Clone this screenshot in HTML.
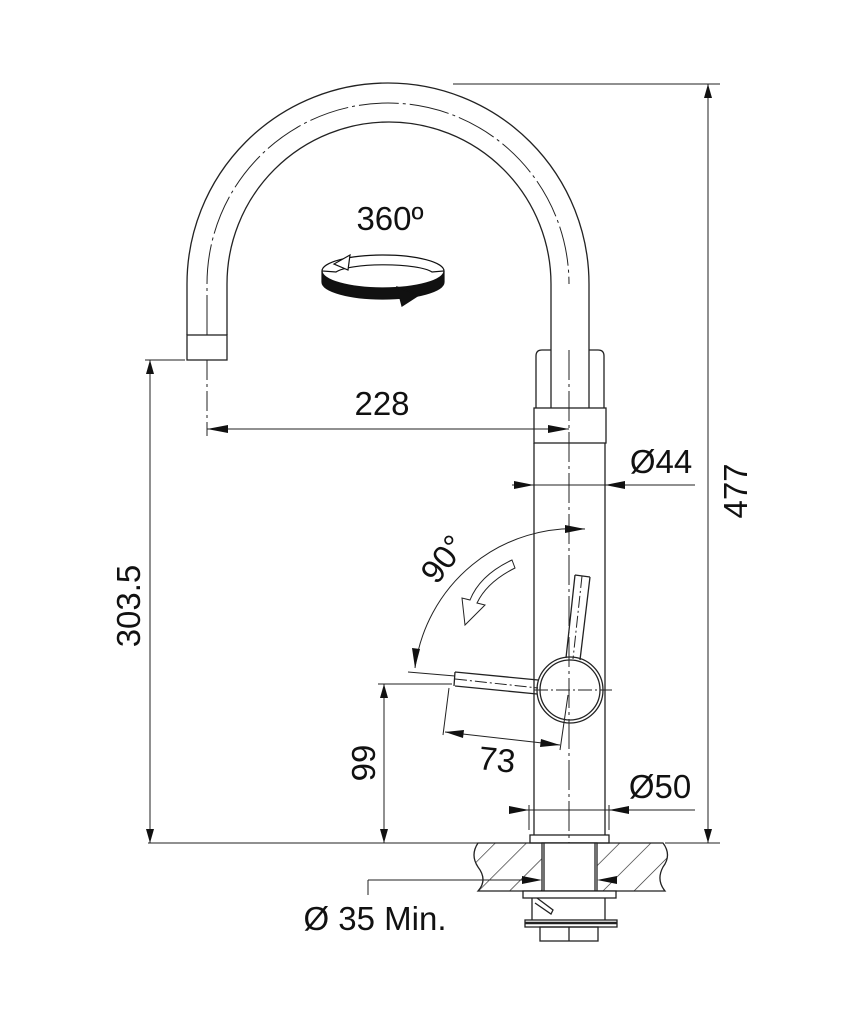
<!DOCTYPE html>
<html><head><meta charset="utf-8"><style>
html,body{margin:0;padding:0;background:#fff}
svg{display:block}
text{font-family:"Liberation Sans",Arial,sans-serif;fill:#111}
</style></head><body>
<svg width="852" height="1018" viewBox="0 0 852 1018" xmlns="http://www.w3.org/2000/svg">
<defs>
<pattern id="h" patternUnits="userSpaceOnUse" width="22" height="22" patternTransform="rotate(45)">
<line x1="0" y1="0" x2="0" y2="22" stroke="#222" stroke-width="1.3"/>
</pattern>
</defs>
<g fill="none" stroke="#222" stroke-width="1.3">
<path d="M187 335 L187 284 A201 201 0 0 1 589 284 L589 350"/>
<path d="M227 335 L227 284 A162 162 0 0 1 551 284 L551 350"/>
<path d="M207 335 L207 284 A181 181 0 0 1 569 284" stroke-dasharray="40 4 3 4" stroke-width="1"/>
<rect x="187" y="335" width="40" height="25"/>
<path d="M536 408 L536 356 Q536 350 542 350 L551 350 M589 350 L598 350 Q604 350 604 356 L604 408"/>
<rect x="534" y="408" width="72" height="35"/>
<line x1="551" y1="350" x2="551" y2="408"/><line x1="589" y1="350" x2="589" y2="408"/>
<line x1="534" y1="443" x2="534" y2="835"/>
<line x1="605" y1="443" x2="605" y2="835"/>
<rect x="530" y="835" width="79" height="8"/>
<line x1="569" y1="350" x2="569" y2="880" stroke-dasharray="30 4 3 4" stroke-width="1"/>
<line x1="207" y1="360" x2="207" y2="436" stroke-dasharray="20 4 3 4" stroke-width="1"/>
<circle cx="570" cy="690" r="33"/>
<circle cx="570" cy="690" r="30"/>
<path d="M455 672 L538 680 M455 686 L537 694 M455 672 L454 686"/>
<line x1="455" y1="679" x2="538" y2="688" stroke-dasharray="12 3 2 3" stroke-width="1"/>
<path d="M575 575 L566 658 M590 577 L580 660 M575 575 L590 577"/>
<line x1="582" y1="576" x2="573" y2="659" stroke-dasharray="12 3 2 3" stroke-width="1"/>
<line x1="534" y1="690" x2="612" y2="690" stroke-dasharray="14 3 2 3" stroke-width="1"/>
<path d="M478 843 L663 843 Q672 855 663 867 Q656 880 665 891 L478 891 Q488 880 478 867 Q470 855 478 843Z" fill="url(#h)"/>
<rect x="542" y="843" width="55" height="48" fill="#fff"/>
<line x1="544" y1="843" x2="544" y2="891"/><line x1="595" y1="843" x2="595" y2="891"/>
<rect x="523" y="891" width="93" height="7" fill="#fff"/>
<path d="M532 898 L532 920 M605 898 L605 920"/>
<path d="M537 898 L553 910 L551 914 L535 903"/>
<rect x="525" y="920" width="92" height="7" fill="#fff"/>
<line x1="525" y1="923" x2="617" y2="923" stroke-width="2.5"/>
<rect x="540" y="927" width="58" height="14"/>
<line x1="569" y1="927" x2="569" y2="941"/>
</g>
<!-- rotation icon -->
<g stroke="#111" stroke-width="1.2">
<path d="M322 271 A61 17 0 0 0 444 271 L444 282 A61 17 0 0 1 322 282 Z" fill="#111"/>
<path d="M322 271 A61 16 0 0 1 444 271 L432 272 A50 10 0 0 0 336 272 Z" fill="#fff"/>
<path d="M350 255 L334 264 L348 270 Z" fill="#fff"/>
<path d="M397 287 L419 295 L402 306 Z" fill="#111"/>
</g>
<g stroke="#222" stroke-width="1" fill="none">
<line x1="453" y1="84" x2="720" y2="84"/>
<line x1="708" y1="84" x2="708" y2="843"/>
<line x1="148" y1="843" x2="478" y2="843"/>
<line x1="665" y1="843" x2="720" y2="843"/>
<line x1="145" y1="360" x2="185" y2="360"/>
<line x1="150" y1="360" x2="150" y2="843"/>
<line x1="378" y1="684" x2="452" y2="684"/>
<line x1="384" y1="684" x2="384" y2="843"/>
<line x1="207" y1="429" x2="569" y2="429"/>
<line x1="512" y1="485" x2="695" y2="485"/>
<line x1="512" y1="810" x2="695" y2="810"/>
<line x1="529" y1="805" x2="529" y2="830"/><line x1="609" y1="805" x2="609" y2="830"/>
<line x1="368" y1="880" x2="540" y2="880"/>
<line x1="368" y1="880" x2="368" y2="895"/>
<line x1="445" y1="732" x2="560" y2="745"/>
<line x1="449" y1="688" x2="443" y2="735"/>
<line x1="568" y1="695" x2="560" y2="750"/>
<path d="M585 529 A160 160 0 0 0 415 668"/>
<line x1="408" y1="672" x2="455" y2="676"/>
<path d="M512 560 Q480 575 470 600 L462 598 L465 625 L485 605 L477 603 Q487 582 515 568 Z"/>
</g>
<g fill="#111">
<path d="M708 84 l-4 14 h8z"/><path d="M708 843 l-4 -14 h8z"/>
<path d="M150 360 l-4 14 h8z"/><path d="M150 843 l-4 -14 h8z"/>
<path d="M384 684 l-4 14 h8z"/><path d="M384 843 l-4 -14 h8z"/>
<path d="M207 429 l21 -4 v8z"/><path d="M569 429 l-21 -4 v8z"/>
<path d="M534 485 l-20 -4 v8z"/><path d="M605 485 l20 -4 v8z"/>
<path d="M529 810 l-20 -4 v8z"/><path d="M609 810 l20 -4 v8z"/>
<path d="M542 880 l-20 -4 v8z"/><path d="M597 880 l20 -4 v8z"/>
<path d="M445 732 l19 -2 l-1 8z"/><path d="M560 745 l-19 -6 l-1 8z"/>
<path d="M585 529 l-20 -4 l0 8z"/><path d="M415 668 l-3 -20 l8 1z"/>
</g>
<text x="390" y="230" font-size="33" text-anchor="middle">360º</text>
<text x="382" y="415" font-size="33" text-anchor="middle">228</text>
<text x="661" y="473" font-size="33" text-anchor="middle">Ø44</text>
<text x="660" y="798" font-size="33" text-anchor="middle">Ø50</text>
<text x="497" y="771" font-size="33" text-anchor="middle" transform="rotate(6 497 760)">73</text>
<text x="375" y="930" font-size="33" text-anchor="middle">Ø 35 Min.</text>
<text transform="translate(747 491) rotate(-90)" font-size="33" text-anchor="middle">477</text>
<text transform="translate(140 606) rotate(-90)" font-size="33" text-anchor="middle">303.5</text>
<text transform="translate(375 763) rotate(-90)" font-size="33" text-anchor="middle">99</text>
<text transform="translate(452 566) rotate(-52)" font-size="33" text-anchor="middle">90°</text>
</svg>
</body></html>
